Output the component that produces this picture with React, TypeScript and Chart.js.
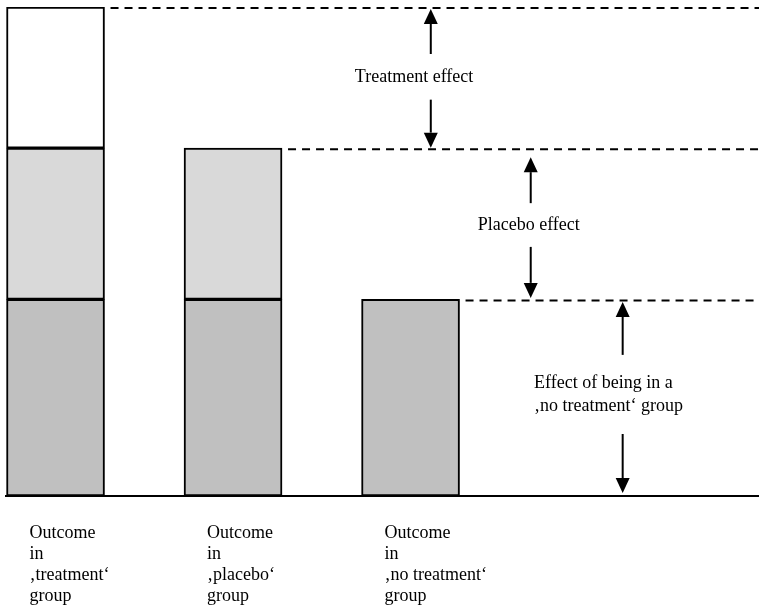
import React, { useEffect, useRef } from "react";
import { Chart, registerables } from "chart.js";

Chart.register(...registerables);

// ---- data ----
const GROUP_LABELS: string[][] = [
  ["Outcome", "in", "\u201Atreatment\u2018", "group"],
  ["Outcome", "in", "\u201Aplacebo\u2018", "group"],
  ["Outcome", "in", "\u201Ano treatment\u2018", "group"],
];
const GROUP_POSITIONS = [0, 1, 2];
const NO_TREATMENT_EFFECT: (number | null)[] = [39, 39, 39];
const PLACEBO_EFFECT: (number | null)[] = [30, 30, null];
const TREATMENT_EFFECT: (number | null)[] = [28, null, null];
const EFFECT_LABELS: string[][] = [
  ["Treatment effect"],
  ["Placebo effect"],
  ["Effect of being in a", "\u201Ano treatment\u2018 group"],
];

// ---- annotation layout (x in x-scale units, gaps/lengths in px) ----
const ARROW_LAYOUT = [
  { x: 2.114, textX: 2.02, align: "center", upGap: 2, upLen: 45, downGap: 0.5, downLen: 48 },
  { x: 2.677, textX: 2.666, align: "center", upGap: 9, upLen: 46, downGap: 1.5, downLen: 51 },
  { x: 3.195, textX: 2.696, align: "left", upGap: 2.5, upLen: 53, downGap: 3, downLen: 59 },
];

const FONT_FAMILY = '"Liberation Serif", "Times New Roman", serif';
const FONT_SIZE = 18;

const totals = GROUP_POSITIONS.map(
  (_, i) => (NO_TREATMENT_EFFECT[i] || 0) + (PLACEBO_EFFECT[i] || 0) + (TREATMENT_EFFECT[i] || 0)
);

function drawArrow(ctx: CanvasRenderingContext2D, x: number, tipY: number, tailY: number) {
  const dir = tailY > tipY ? 1 : -1; // 1: pointing up
  const headH = 15;
  const headW = 14;
  ctx.beginPath();
  ctx.moveTo(x, tailY);
  ctx.lineTo(x, tipY + dir * headH);
  ctx.stroke();
  ctx.beginPath();
  ctx.moveTo(x, tipY);
  ctx.lineTo(x - headW / 2, tipY + dir * headH);
  ctx.lineTo(x + headW / 2, tipY + dir * headH);
  ctx.closePath();
  ctx.fill();
}

const annotationPlugin = {
  id: "effectAnnotations",
  afterDatasetsDraw(chart: any) {
    const ctx: CanvasRenderingContext2D = chart.ctx;
    const xs = chart.scales.x;
    const ys = chart.scales.y;
    ctx.save();
    ctx.strokeStyle = "#000";
    ctx.fillStyle = "#000";

    // dashed level lines from the top of each bar
    ctx.lineWidth = 2;
    ctx.setLineDash([8, 6]);
    GROUP_POSITIONS.forEach((_, j) => {
      let top: any = null;
      chart.data.datasets.forEach((ds: any, di: number) => {
        const v = ds.data[j] && ds.data[j].y;
        if (v != null) top = chart.getDatasetMeta(di).data[j];
      });
      if (!top) return;
      const y = top.y + 1;
      ctx.beginPath();
      ctx.moveTo(top.x + top.width / 2 + 6, y);
      ctx.lineTo(chart.width, y);
      ctx.stroke();
    });
    ctx.setLineDash([]);

    // arrows and effect labels
    ctx.lineWidth = 2;
    ctx.font = `${FONT_SIZE}px ${FONT_FAMILY}`;
    ctx.textBaseline = "middle";
    EFFECT_LABELS.forEach((lines, i) => {
      const lay = ARROW_LAYOUT[i];
      const upper = totals[i];
      const lower = i + 1 < totals.length ? totals[i + 1] : 0;
      const yTop = ys.getPixelForValue(upper);
      const yBot = ys.getPixelForValue(lower);
      const ax = xs.getPixelForValue(lay.x);
      const upTip = yTop + lay.upGap;
      const upTail = upTip + lay.upLen;
      const downTip = yBot - lay.downGap;
      const downTail = downTip - lay.downLen;
      drawArrow(ctx, ax, upTip, upTail);
      drawArrow(ctx, ax, downTip, downTail);
      const mid = (upTail + downTail) / 2;
      const lh = 23;
      const tx = xs.getPixelForValue(lay.textX);
      ctx.textAlign = lay.align as CanvasTextAlign;
      lines.forEach((ln, k) => {
        const y = mid + (k - (lines.length - 1) / 2) * lh;
        ctx.fillText(ln, tx, y);
      });
    });
    ctx.restore();
  },
};

export default function App() {
  const canvasRef = useRef<HTMLCanvasElement | null>(null);

  useEffect(() => {
    if (!canvasRef.current) return;
    const mk = (arr: (number | null)[]) => GROUP_POSITIONS.map((x, i) => ({ x, y: arr[i] }));
    const common = {
      borderColor: "#000",
      borderWidth: 2,
      borderSkipped: false,
      barThickness: 98,
    };
    const chart = new Chart(canvasRef.current, {
      type: "bar",
      data: {
        datasets: [
          { label: "No treatment", data: mk(NO_TREATMENT_EFFECT), backgroundColor: "#c0c0c0", ...common },
          { label: "Placebo", data: mk(PLACEBO_EFFECT), backgroundColor: "#d9d9d9", ...common },
          { label: "Treatment", data: mk(TREATMENT_EFFECT), backgroundColor: "#ffffff", ...common },
        ] as any,
      },
      options: {
        animation: false,
        responsive: true,
        maintainAspectRatio: false,
        layout: { padding: { top: 7, left: 6, right: 0, bottom: 0 } },
        plugins: { legend: { display: false }, tooltip: { enabled: false } },
        scales: {
          x: {
            type: "linear",
            stacked: true,
            offset: false,
            min: -0.279,
            max: 3.963,
            grid: { display: false, drawTicks: false, offset: false },
            border: { display: true, color: "#000", width: 2 },
            afterBuildTicks: (scale: any) => {
              scale.ticks = GROUP_POSITIONS.map((v) => ({ value: v }));
            },
            afterFit: (scale: any) => {
              scale.height = 113;
              scale.paddingLeft = 0;
              scale.paddingRight = 0;
            },
            ticks: {
              autoSkip: false,
              maxRotation: 0,
              minRotation: 0,
              align: "start",
              labelOffset: -26,
              padding: 27,
              color: "#000",
              font: { family: FONT_FAMILY, size: FONT_SIZE, lineHeight: 1.16 },
              callback: (_v: any, index: number) => GROUP_LABELS[index],
            },
          },
          y: {
            display: false,
            stacked: true,
            min: 0,
            max: Math.max(...totals),
          },
        },
      } as any,
      plugins: [annotationPlugin],
    });
    return () => chart.destroy();
  }, []);

  return (
    <div style={{ position: "absolute", left: 0, top: 0, width: 759, height: 609, background: "#fff" }}>
      <canvas ref={canvasRef} />
    </div>
  );
}
